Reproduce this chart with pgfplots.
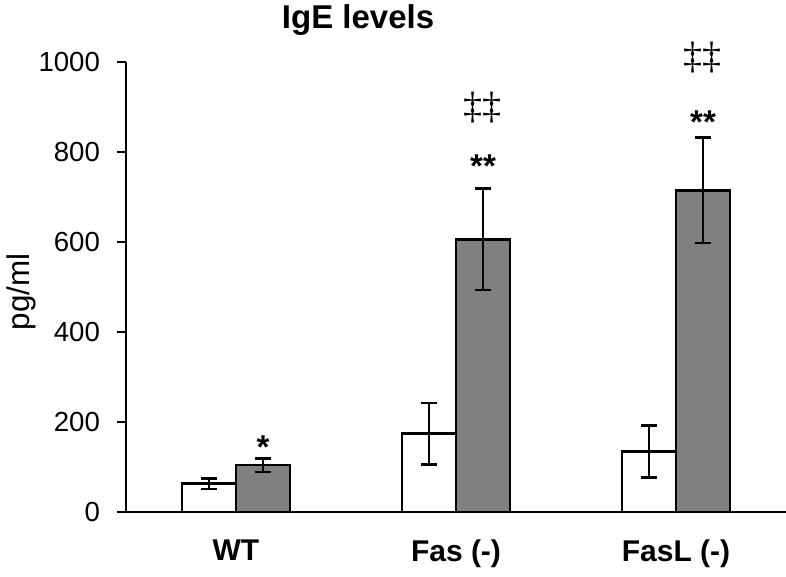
\documentclass[border=0pt]{standalone}
\usepackage{fontspec}
\setmainfont{Liberation Sans}
\newfontfamily\dagfont{Liberation Serif}
\usepackage{pgfplots}
\pgfplotsset{compat=1.18}
\definecolor{bargray}{HTML}{808080}
\begin{document}
\begin{tikzpicture}
\begin{axis}[
  scale only axis, width=330pt, height=225pt,
  xmin=-0.5, xmax=2.5, ymin=0, ymax=1000,
  axis x line*=bottom, axis y line*=left,
  axis line style={line width=0.9pt, black},
  ybar=0pt, bar width=27pt,
  xtick={0,1,2}, xticklabels={WT,Fas (-),FasL (-)},
  x tick style={draw=none},
  x tick label style={font=\fontsize{15}{17}\selectfont\bfseries, yshift=-6pt},
  ytick={0,200,400,600,800,1000},
  y tick style={line width=0.9pt, black},
  tick align=outside, major tick length=4.5pt,
  y tick label style={font=\fontsize{13.8}{15}\selectfont, xshift=-5pt},
  /pgf/number format/assume math mode=true,
  /pgf/number format/1000 sep={},
  clip=false,
  error bars/y dir=both, error bars/y explicit,
  error bars/error bar style={line width=1.3pt, black},
  error bars/error mark options={rotate=90, line width=1.3pt, black, mark size=4pt},
]
\addplot[fill=white, draw=black, line width=1.3pt] coordinates {
  (0,63) +- (0,12)
  (1,174) +- (0,68)
  (2,134) +- (0,58)
};
\addplot[fill=bargray, draw=black, line width=1.3pt] coordinates {
  (0,104) +- (0,15)
  (1,606) +- (0,113)
  (2,715) +- (0,117)
};
\coordinate (sw) at (rel axis cs:0,0);
% annotations
\node[anchor=base, inner sep=0pt, font=\fontsize{16.5}{18}\selectfont\bfseries] at (axis cs:0.123,118) {*};
\node[anchor=base, inner sep=0pt, font=\fontsize{16.5}{18}\selectfont\bfseries] at (axis cs:1.123,744) {**};
\node[anchor=base, inner sep=0pt, font=\fontsize{16.5}{18}\selectfont\bfseries] at (axis cs:2.123,842) {**};
\node[anchor=base, inner sep=0pt, font=\fontsize{19}{21}\dagfont] at (axis cs:1.12,875) {‡‡};
\node[anchor=base, inner sep=0pt, font=\fontsize{19}{21}\dagfont] at (axis cs:2.12,986) {‡‡};
% title and y label
\node[anchor=base, inner sep=0pt, font=\fontsize{16.5}{18}\selectfont\bfseries] at (axis cs:0.555,1075) {IgE levels};
\node[rotate=90, inner sep=0pt, font=\fontsize{15.7}{18}\selectfont] at (axis cs:-0.977,489) {pg/ml};
\end{axis}
\pgfresetboundingbox
\path (sw) ++(-63pt,-32.5pt) rectangle ++(393pt,288.5pt);
\end{tikzpicture}
\end{document}
